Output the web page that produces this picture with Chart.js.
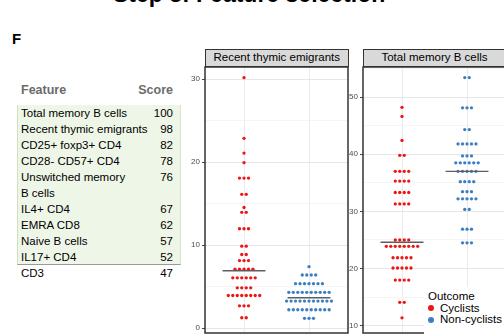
<!DOCTYPE html>
<html><head><meta charset="utf-8">
<script src="https://cdn.jsdelivr.net/npm/chart.js@4.4.1/dist/chart.umd.min.js"></script>
<style>
html,body{margin:0;padding:0;background:#fff;width:504px;height:335px;overflow:hidden;font-family:"Liberation Sans",Arial,sans-serif;color:#000;}
.abs{position:absolute;}
#title{left:113px;top:-17px;font-size:23px;line-height:23px;font-weight:bold;white-space:nowrap;}
#figlabel{left:12px;top:31px;font-size:15px;line-height:15px;font-weight:bold;}
#thead{left:21px;top:82px;width:152px;font-size:12.5px;line-height:16px;font-weight:bold;color:#6b6b6b;display:flex;justify-content:space-between;}
#tbox{left:17px;top:105px;width:164px;height:160px;background:#eef6e8;border-left:1px solid #cfe0c4;border-right:1px solid #d7e4cf;border-bottom:1px solid #9a9a9a;box-sizing:border-box;}
.row{position:absolute;left:21px;width:152px;display:flex;justify-content:space-between;align-items:flex-start;font-size:11.5px;line-height:16px;white-space:pre-line;}
.strip{height:18px;background:#d9d9d9;border:1.5px solid #333;box-sizing:border-box;font-size:11.5px;line-height:15px;text-align:center;white-space:nowrap;overflow:hidden;}
#legend{left:424px;top:287px;width:84px;height:48px;background:#fff;font-size:11.5px;}
.lk{position:absolute;left:4px;width:6px;height:6px;border-radius:50%;}
.lt{position:absolute;left:16px;line-height:13px;white-space:nowrap;}
canvas{position:absolute;}
</style></head>
<body>
<div id="title" class="abs">Step 3: Feature selection</div>
<div id="figlabel" class="abs">F</div>
<div id="thead" class="abs"><span>Feature</span><span>Score</span></div>
<div id="tbox" class="abs"></div>
<div id="table"></div>
<div id="strip1" class="abs strip" style="left:205px;top:49px;width:143.5px;"></div>
<div id="strip2" class="abs strip" style="left:362.5px;top:49px;width:144px;"></div>
<canvas id="c1" width="170" height="270" style="left:180px;top:65px;"></canvas>
<canvas id="c2" width="163" height="270" style="left:345px;top:65px;"></canvas>
<div id="legend" class="abs"></div>
<script>
// ---- data ----
const features = ["Total memory B cells","Recent thymic emigrants","CD25+ foxp3+ CD4","CD28- CD57+ CD4","Unswitched memory\nB cells","IL4+ CD4","EMRA CD8","Naive B cells","IL17+ CD4","CD3"];
const scores = [100, 98, 82, 78, 76, 67, 62, 57, 52, 47];
const selectedCount = 9;

const outcomes = ["Cyclists","Non-cyclists"];
const panelTitles = ["Recent thymic emigrants","Total memory B cells"];

const rteCyclists = [30.16, 22.86, 21.08, 19.92,
  18.07, 18.07, 18.07, 16.11, 16.11, 14.52, 13.94, 13.94,
  11.96, 11.96, 11.96, 9.86, 9.86, 8.86, 8.86, 8.13, 8.13, 8.13,
  7.08, 7.08, 7.08, 7.08, 7.08,
  6.05, 6.05, 6.05, 6.05, 6.05, 6.05,
  4.84, 4.84, 4.84, 4.84,
  3.92, 3.92, 3.92, 3.92, 3.92, 3.92, 3.92, 3.92,
  2.67, 2.67, 2.67, 1.24, 1.24];
const rteNonCyclists = [7.39,
  6.39, 6.39, 6.39, 6.39,
  5.34, 5.34, 5.34, 5.34, 5.34, 5.34, 5.34,
  4.30, 4.30, 4.30, 4.30, 4.30, 4.30, 4.30, 4.30, 4.30, 4.30,
  3.25, 3.25, 3.25, 3.25, 3.25, 3.25, 3.25, 3.25, 3.25, 3.25, 3.25,
  2.20, 2.20, 2.20, 2.20, 2.20, 2.20, 2.20, 2.20, 2.20, 2.20,
  1.17, 1.17, 1.17];
const tmbCyclists = [48.2, 46.6, 42.4, 39.8, 39.8,
  37.0, 37.0, 37.0, 37.0, 35.3, 35.3, 35.3, 35.3,
  33.3, 33.3, 33.3, 33.3, 31.3, 31.3, 31.3, 31.3,
  25.0, 25.0, 25.0, 25.0,
  23.9, 23.9, 23.9, 23.9, 23.9, 23.9, 23.9, 23.9,
  21.9, 21.9, 21.9, 21.9, 21.9,
  20.1, 20.1, 20.1, 20.1, 20.1,
  18.0, 18.0, 18.0, 18.0, 14.1, 14.1, 11.4];
const tmbNonCyclists = [53.4, 53.4, 48.1, 48.1, 48.1, 44.3, 44.3,
  41.8, 41.8, 41.8, 41.8, 41.8, 39.7, 39.7, 39.7,
  38.5, 38.5, 38.5, 38.5, 38.5, 38.5,
  37.0, 37.0, 37.0, 37.0, 37.0, 35.2, 35.2, 35.2, 35.2,
  33.45, 33.45, 33.45, 32.2, 32.2, 32.2, 32.2, 32.2,
  30.35, 30.35, 26.9, 26.9, 26.9, 24.5, 24.5, 24.5];
const rteMedians = [6.9, 3.65];
const tmbMedians = [24.6, 37.0];
const rteTicks = [0, 5, 10, 15, 20, 25, 30];
const tmbTicks = [10, 15, 20, 25, 30, 35, 40, 45, 50, 55];

// ---- styles ----
const colors = ["#f01515", "#3b7fc2"];
const DOT_SPACING = 0.069; // category units between stacked dots

// ---- table ----
const tbl = document.getElementById('table');
let rowTop = 105;
features.forEach((f, i) => {
  const r = document.createElement('div');
  r.className = 'row';
  const lines = f.split('\n').length;
  r.style.top = rowTop + 'px';
  r.innerHTML = '<span></span><span></span>';
  r.children[0].textContent = f;
  r.children[1].textContent = scores[i];
  tbl.appendChild(r);
  rowTop += 16 * lines;
});
document.getElementById('strip1').textContent = panelTitles[0];
document.getElementById('strip2').textContent = panelTitles[1];

// ---- legend ----
const lg = document.getElementById('legend');
lg.innerHTML = '<div class="lt" style="left:4px;top:3px;">' + 'Outcome' + '</div>';
outcomes.forEach((o, i) => {
  const y = 21 + i * 11.5;
  lg.innerHTML += '<div class="lk" style="top:' + (y - 3) + 'px;background:' + colors[i] + ';"></div>' +
                  '<div class="lt" style="top:' + (y - 6.5) + 'px;">' + o + '</div>';
});

// ---- charts ----
function stackDots(values, ci) {
  const groups = new Map();
  values.forEach(v => { const k = v.toFixed(3); if (!groups.has(k)) groups.set(k, []); groups.get(k).push(v); });
  const pts = [];
  groups.forEach(arr => {
    const n = arr.length;
    arr.forEach((v, i) => pts.push({ x: ci + 1 + (i - (n - 1) / 2) * DOT_SPACING, y: v }));
  });
  return pts;
}
const panelBorder = {
  id: 'panelBorder',
  afterDraw(chart) {
    const { ctx, chartArea: a } = chart;
    ctx.save();
    ctx.strokeStyle = '#333';
    ctx.lineWidth = 1.5;
    ctx.strokeRect(a.left, a.top, a.right - a.left, a.bottom - a.top);
    ctx.restore();
  }
};
function makePanel(id, series, medians, ticks, yMin, yMax, axisWidth) {
  const datasets = [];
  series.forEach((vals, ci) => datasets.push({
    label: outcomes[ci], data: stackDots(vals, ci), backgroundColor: colors[ci],
    borderWidth: 0, pointRadius: 1.65, pointHoverRadius: 1.65, order: 1
  }));
  medians.forEach((m, ci) => datasets.push({
    label: 'median ' + outcomes[ci], data: [{ x: ci + 1 - 0.33, y: m }, { x: ci + 1 + 0.33, y: m }],
    showLine: true, borderColor: '#5e5e5e', borderWidth: 1.4, pointRadius: 0, order: 0
  }));
  return new Chart(document.getElementById(id), {
    type: 'scatter',
    data: { datasets },
    options: {
      responsive: false, animation: false, devicePixelRatio: 1,
      layout: { padding: { top: 2, bottom: 2, right: 2, left: 0 } },
      plugins: { legend: { display: false }, tooltip: { enabled: false } },
      scales: {
        x: {
          type: 'linear', min: 0.4, max: 2.6,
          afterBuildTicks: s => { s.ticks = outcomes.map((o, i) => ({ value: i + 1 })); },
          ticks: { display: false },
          grid: { color: '#ebebeb', lineWidth: 1, drawTicks: false },
          border: { display: false },
          afterFit: s => { s.height = 0; }
        },
        y: {
          type: 'linear', min: yMin, max: yMax,
          afterBuildTicks: s => { s.ticks = ticks.map(v => ({ value: v })); },
          ticks: {
            callback: v => (v % 10 === 0 ? String(v) : ''),
            font: { size: 8, family: 'Liberation Sans' }, color: '#4d4d4d', padding: 2, autoSkip: false
          },
          grid: {
            color: c => (c.tick && c.tick.value % 10 === 0 ? '#e6e6e6' : '#f2f2f2'),
            lineWidth: c => (c.tick && c.tick.value % 10 === 0 ? 1 : 0.8),
            tickLength: 3,
            tickColor: c => (c.tick && c.tick.value % 10 === 0 ? '#444' : 'rgba(0,0,0,0)')
          },
          border: { display: false },
          afterFit: s => { s.width = axisWidth; s.paddingTop = 0; s.paddingBottom = 0; }
        }
      }
    },
    plugins: [panelBorder]
  });
}
makePanel('c1', [rteCyclists, rteNonCyclists], rteMedians, rteTicks, -0.6, 31.45, 25);
makePanel('c2', [tmbCyclists, tmbNonCyclists], tmbMedians, tmbTicks, 8.74, 55.245, 18);
</script>
</body></html>
